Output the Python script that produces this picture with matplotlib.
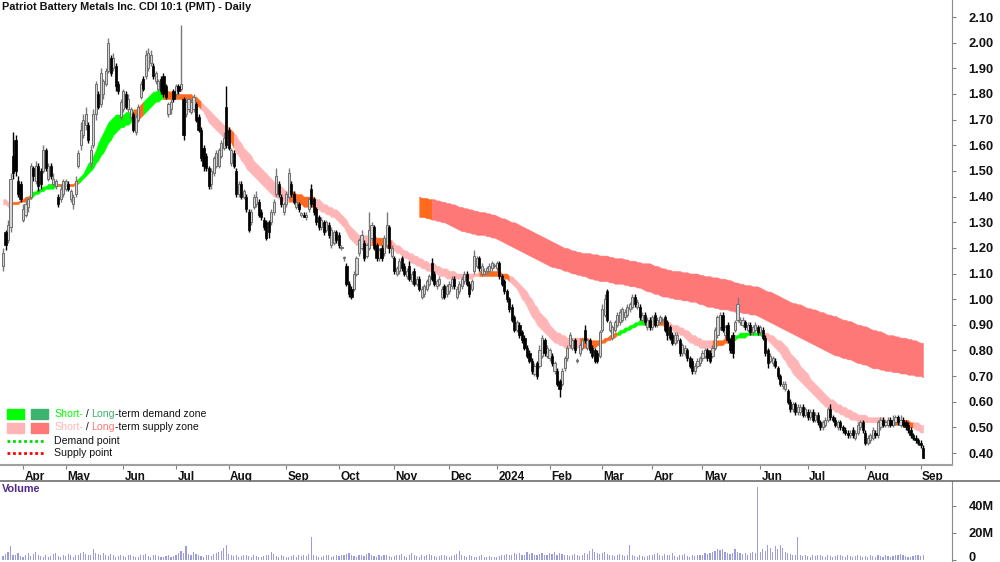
import numpy as np
import pandas as pd
import matplotlib

matplotlib.use("Agg")
import matplotlib.pyplot as plt
from matplotlib import font_manager
from matplotlib.lines import Line2D
from matplotlib.patches import Rectangle
from matplotlib.transforms import ScaledTranslation

W, H = 1000, 562

title = "Patriot Battery Metals Inc. CDI 10:1 (PMT) - Daily"
asx_holidays = ["2023-04-07", "2023-04-10", "2023-04-25", "2023-06-12", "2023-12-25", "2023-12-26",
                "2024-01-01", "2024-01-26", "2024-03-29", "2024-04-01", "2024-04-25", "2024-06-10"]

# daily prices in cents, one row per month (Mar-23 .. Sep-24)
opens = [
    113, 126, 123, 128, 156, 162, 146, 145,
    131, 133, 136, 140, 151, 146, 152, 150, 150, 158, 147, 152, 145, 144, 140, 139, 141,
    143, 145, 139, 137, 141, 152, 160, 164, 168, 168, 153, 160, 172, 180, 176, 180, 184, 189, 194, 190, 191, 184, 171,
    174, 180, 174, 171, 172, 165, 170, 179, 186, 187, 190, 192, 191, 185, 182, 186, 187, 183, 172, 174, 181,
    180, 183, 182, 178, 172, 174, 173, 174, 176, 171, 166, 159, 156, 151, 145, 149, 152, 152, 156, 159, 175,
    166, 153, 157, 150, 141, 145, 140, 140, 134, 130, 136, 137, 138, 134, 131, 130, 130, 130, 134, 141, 145, 140, 134,
    137, 140, 145, 141, 136, 137, 133, 133, 132, 135, 143, 139, 135, 132, 128, 130, 127, 129, 121, 122, 126,
    125, 120, 116, 113, 106, 104, 104, 110, 118, 120, 122, 117, 120, 124, 128, 121, 116, 120, 118, 121, 128, 117,
    116, 110, 111, 116, 113, 109, 113, 107, 111, 106, 108, 101, 102, 104, 106, 114, 110, 105, 106, 101, 105, 102,
    103, 105, 108, 101, 103, 105, 107, 110, 106, 104, 111, 113, 116, 110, 110, 111, 111, 112, 113,
    112, 114, 109, 107, 103, 100, 97, 93, 88, 90, 87, 85, 81, 79, 76, 71, 75, 74, 78, 84, 78,
    77, 78, 72, 72, 68, 67, 73, 77, 82, 81, 84, 76, 79, 81, 88, 81, 84, 81, 80, 79, 78,
    88, 94, 103, 88, 85, 88, 90, 91, 92, 93, 94, 96, 97, 101, 97, 97, 92, 94, 89, 92,
    89, 94, 90, 91, 92, 93, 91, 89, 86, 83, 84, 84, 79, 79, 80, 77, 76, 72, 74, 75,
    77, 78, 80, 79, 78, 81, 86, 89, 94, 86, 90, 84, 86, 88, 92, 91, 90, 91, 88, 90, 87, 88, 89,
    87, 88, 85, 80, 76, 75, 76, 73, 70, 66, 65, 64, 60, 57, 59, 56, 56, 58, 55,
    56, 54, 56, 53, 55, 52, 50, 51, 53, 57, 54, 53, 50, 52, 50, 49, 48, 47, 49, 46, 48, 50, 52,
    48, 44, 45, 46, 48, 47, 50, 53, 51, 51, 53, 51, 52, 54, 51, 53, 52, 51, 49, 47, 46, 45,
    44, 42,
]
highs = [
    120, 127, 131, 149, 165, 164, 148, 146,
    137, 139, 140, 153, 152, 154, 153, 151, 160, 159, 153, 153, 149, 147, 141, 145, 147,
    147, 146, 143, 141, 148, 158, 169, 172, 175, 169, 160, 174, 185, 181, 190, 186, 190, 202, 195, 196, 192, 185, 178,
    182, 181, 180, 175, 173, 172, 176, 185, 187, 197, 198, 197, 192, 189, 186, 187, 188, 184, 177, 178, 182,
    184, 184, 207, 179, 178, 179, 178, 180, 177, 172, 167, 160, 157, 152, 151, 156, 158, 159, 162, 165, 183,
    167, 159, 158, 151, 146, 146, 143, 141, 135, 135, 141, 142, 139, 135, 132, 131, 131, 135, 139, 151, 146, 141, 138,
    142, 151, 146, 142, 139, 138, 134, 134, 134, 140, 145, 140, 136, 133, 132, 131, 131, 130, 128, 127, 127,
    126, 121, 117, 114, 107, 105, 111, 117, 124, 127, 123, 122, 134, 130, 129, 122, 120, 121, 125, 134, 129, 121,
    117, 113, 116, 117, 114, 112, 115, 111, 112, 109, 109, 105, 106, 108, 110, 116, 111, 108, 109, 105, 106, 106,
    107, 109, 109, 105, 107, 109, 111, 111, 107, 108, 119, 117, 117, 114, 112, 113, 114, 115, 114,
    115, 115, 110, 108, 104, 101, 98, 94, 92, 91, 88, 86, 82, 80, 77, 75, 76, 82, 86, 85, 82,
    81, 79, 76, 73, 69, 73, 78, 82, 87, 85, 85, 77, 83, 85, 90, 85, 85, 82, 81, 80, 88,
    98, 102, 104, 92, 90, 92, 95, 96, 97, 96, 98, 99, 102, 102, 100, 98, 95, 95, 93, 93,
    94, 95, 93, 94, 93, 94, 92, 90, 87, 87, 87, 85, 83, 82, 81, 78, 77, 75, 77, 78,
    80, 81, 81, 80, 82, 89, 94, 95, 95, 90, 91, 85, 87, 92, 101, 93, 93, 92, 91, 91, 90, 91, 90,
    90, 89, 86, 81, 79, 78, 77, 74, 71, 68, 68, 65, 61, 60, 60, 59, 59, 59, 58,
    57, 57, 57, 56, 56, 53, 53, 54, 58, 59, 55, 54, 53, 53, 51, 50, 49, 49, 50, 49, 52, 53, 53,
    49, 47, 48, 50, 49, 53, 54, 54, 53, 54, 54, 55, 55, 55, 55, 54, 53, 52, 50, 48, 47, 46,
    45, 43,
]
lows = [
    111, 119, 122, 126, 147, 148, 140, 138,
    130, 132, 134, 139, 146, 145, 142, 143, 149, 150, 146, 147, 144, 143, 136, 138, 140,
    142, 142, 138, 135, 140, 151, 158, 163, 166, 161, 151, 159, 170, 174, 175, 178, 183, 188, 187, 189, 181, 180, 170,
    173, 174, 173, 170, 165, 164, 169, 178, 181, 186, 189, 191, 186, 184, 181, 180, 179, 178, 171, 172, 177,
    179, 180, 181, 162, 171, 173, 172, 173, 169, 165, 154, 150, 150, 143, 143, 148, 151, 151, 155, 158, 159,
    158, 152, 151, 140, 140, 139, 139, 134, 126, 129, 135, 136, 132, 131, 127, 123, 124, 129, 133, 140, 140, 136, 133,
    136, 139, 140, 137, 135, 134, 132, 132, 131, 134, 136, 133, 129, 127, 127, 125, 126, 124, 120, 121, 122,
    120, 119, 115, 105, 101, 100, 103, 109, 117, 119, 115, 116, 119, 123, 119, 115, 115, 115, 117, 120, 118, 116,
    110, 109, 110, 111, 109, 108, 107, 106, 105, 105, 103, 100, 101, 103, 105, 107, 105, 104, 105, 100, 100, 101,
    102, 104, 104, 100, 102, 104, 106, 105, 101, 103, 110, 112, 111, 109, 110, 110, 110, 111, 112,
    111, 108, 105, 102, 99, 95, 91, 87, 87, 85, 83, 80, 77, 75, 71, 70, 69, 73, 77, 78, 77,
    76, 74, 71, 66, 62, 66, 72, 76, 81, 80, 79, 75, 78, 80, 83, 80, 79, 77, 75, 75, 77,
    87, 93, 91, 87, 84, 87, 89, 90, 91, 92, 93, 95, 96, 97, 96, 92, 91, 90, 88, 88,
    88, 89, 89, 90, 91, 87, 84, 84, 82, 82, 83, 78, 78, 78, 76, 73, 71, 71, 73, 74,
    76, 77, 76, 75, 77, 80, 85, 88, 87, 85, 83, 79, 77, 87, 91, 90, 89, 88, 87, 86, 86, 87, 86,
    86, 84, 78, 73, 75, 74, 73, 69, 66, 65, 64, 59, 56, 56, 55, 55, 55, 54, 54,
    53, 53, 52, 52, 51, 49, 49, 50, 52, 53, 52, 50, 49, 49, 48, 47, 46, 46, 46, 45, 47, 49, 48,
    43, 43, 44, 45, 46, 46, 49, 50, 50, 50, 50, 50, 51, 51, 50, 50, 49, 48, 46, 45, 44, 43,
    42, 38,
]
closes = [
    118, 121, 129, 147, 149, 150, 141, 139,
    135, 137, 139, 152, 148, 152, 144, 145, 158, 151, 152, 148, 147, 146, 137, 143, 146,
    146, 143, 142, 140, 146, 157, 166, 170, 172, 162, 158, 172, 184, 175, 188, 185, 189, 200, 188, 194, 183, 181, 177,
    181, 175, 178, 174, 166, 171, 175, 184, 182, 195, 196, 195, 187, 188, 185, 181, 180, 179, 176, 177, 178,
    183, 181, 184, 164, 177, 178, 177, 179, 170, 166, 155, 152, 151, 144, 150, 155, 157, 158, 161, 163, 160,
    159, 158, 152, 141, 145, 140, 142, 135, 127, 134, 140, 140, 133, 132, 128, 124, 126, 134, 138, 148, 141, 137, 137,
    141, 149, 141, 138, 138, 135, 133, 132, 133, 139, 137, 134, 130, 128, 131, 126, 130, 125, 127, 126, 123,
    121, 120, 116, 106, 102, 101, 110, 116, 123, 125, 116, 121, 127, 129, 120, 116, 119, 116, 124, 129, 120, 120,
    111, 112, 115, 112, 110, 111, 108, 110, 106, 108, 104, 104, 105, 107, 109, 108, 106, 107, 108, 104, 101, 105,
    106, 108, 105, 104, 106, 108, 110, 106, 102, 107, 117, 116, 112, 113, 111, 112, 113, 114, 113,
    114, 109, 106, 103, 100, 96, 92, 88, 91, 86, 84, 81, 78, 76, 72, 74, 70, 80, 85, 79, 81,
    80, 75, 75, 67, 65, 72, 77, 81, 86, 84, 80, 76, 82, 84, 84, 84, 80, 78, 76, 76, 87,
    96, 100, 92, 91, 89, 91, 94, 95, 96, 95, 97, 98, 101, 98, 99, 93, 94, 91, 92, 89,
    93, 90, 92, 93, 92, 88, 86, 85, 83, 86, 86, 79, 82, 81, 77, 74, 72, 74, 76, 77,
    79, 80, 77, 76, 81, 88, 93, 94, 88, 89, 84, 80, 79, 91, 98, 92, 92, 89, 90, 87, 89, 90, 87,
    89, 85, 79, 75, 78, 77, 74, 70, 67, 67, 67, 60, 57, 59, 56, 58, 58, 55, 57,
    54, 56, 53, 55, 52, 50, 52, 53, 57, 54, 53, 51, 52, 50, 49, 48, 47, 48, 47, 48, 51, 52, 49,
    44, 46, 47, 49, 47, 52, 53, 51, 52, 53, 51, 53, 54, 52, 53, 51, 50, 49, 47, 46, 45, 44,
    43, 38,
]
# volume in units of 0.1M shares
volume = [
    30, 45, 60, 100, 40, 35, 55, 30,
    25, 35, 50, 30, 45, 60, 40, 30, 25, 35, 20, 30, 45, 55, 30, 25, 40,
    30, 45, 35, 25, 40, 35, 50, 60, 45, 40, 35, 80, 55, 45, 35, 50, 40, 30, 45, 35, 25, 30, 40,
    30, 25, 35, 40, 30, 25, 20, 35, 40, 45, 30, 25, 35, 40, 30, 25, 20, 30, 35, 25, 30,
    40, 50, 65, 55, 100, 45, 40, 60, 45, 35, 30, 25, 40, 35, 30, 45, 50, 60, 70, 90, 110,
    45, 35, 30, 40, 25, 30, 35, 40, 30, 25, 35, 30, 25, 20, 30, 35, 40, 60, 45, 30, 25, 35, 30,
    25, 20, 30, 35, 25, 40, 30, 35, 30, 45, 170, 35, 30, 25, 20, 30, 35, 40, 25, 30, 35,
    30, 35, 40, 45, 50, 35, 30, 25, 40, 35, 30, 45, 50, 35, 30, 25, 35, 30, 40, 35, 30, 25,
    30, 35, 40, 45, 30, 25, 35, 55, 40, 30, 25, 35, 30, 40, 45, 35, 30, 25, 30, 35, 40, 30,
    25, 30, 35, 45, 70, 40, 30, 25, 35, 30, 25, 20, 30, 35, 25, 20, 30, 25, 20,
    25, 30, 35, 40, 45, 35, 40, 50, 45, 55, 40, 35, 60, 45, 50, 40, 35, 45, 55, 40, 35,
    50, 45, 60, 40, 55, 45, 40, 35, 30, 40, 45, 35, 30, 40, 50, 45, 70, 80, 60, 55, 45,
    50, 60, 45, 40, 35, 30, 40, 45, 35, 30, 40, 110, 35, 30, 25, 35, 30, 25, 30, 35,
    40, 45, 50, 35, 30, 45, 40, 35, 50, 30, 25, 35, 40, 45, 30, 25, 35, 30, 40, 35,
    40, 50, 45, 55, 60, 70, 80, 75, 85, 60, 50, 45, 55, 80, 60, 50, 45, 55, 40, 50, 60, 55, 540,
    60, 80, 70, 110, 90, 60, 100, 80, 110, 90, 60, 50, 45, 40, 35, 170, 40, 30, 35,
    30, 25, 35, 30, 40, 35, 30, 25, 35, 30, 25, 30, 35, 40, 30, 25, 35, 30, 25, 30, 35, 30, 25,
    30, 25, 35, 30, 25, 40, 30, 25, 35, 30, 25, 30, 35, 40, 45, 35, 30, 25, 20, 30, 35, 40,
    30, 35,
]
# short-term zone edges (cents)
short_zone_low = [
    137, 137, 136, 136, 137, 137, 137, 138,
    138, 138, 139, 139, 140, 141, 141, 142, 142, 143, 143, 143, 143, 144, 144, 144, 144,
    144, 144, 144, 144, 145, 145, 146, 147, 148, 149, 150, 151, 153, 154, 156, 157, 159, 161, 162, 164, 165, 166, 167,
    167, 168, 168, 169, 169, 170, 170, 171, 172, 173, 174, 175, 176, 177, 177, 178, 178, 178, 178, 178, 178,
    178, 178, 178, 178, 178, 177, 177, 177, 176, 175, 174, 173, 171, 169, 168, 167, 166, 165, 164, 163, 163,
    162, 161, 159, 157, 156, 154, 153, 151, 150, 149, 148, 147, 146, 145, 144, 143, 142, 141, 140, 140, 139, 139, 138,
    138, 138, 138, 138, 137, 137, 137, 136, 136, 136, 136, 136, 135, 135, 134, 134, 133, 133, 132, 132, 131,
    130, 129, 128, 126, 124, 123, 122, 121, 121, 121, 121, 121, 121, 121, 121, 121, 121, 121, 121, 120, 120, 120,
    119, 118, 118, 117, 116, 116, 115, 114, 114, 113, 113, 112, 112, 111, 111, 111, 110, 110, 109, 109, 109, 108,
    108, 108, 108, 108, 108, 108, 108, 108, 108, 108, 109, 109, 109, 109, 109, 109, 109, 109, 109,
    109, 109, 109, 108, 108, 107, 106, 105, 104, 102, 100, 99, 97, 95, 93, 92, 90, 89, 88, 87, 86,
    85, 84, 83, 83, 82, 82, 81, 81, 81, 81, 81, 81, 81, 81, 81, 81, 81, 81, 81, 82, 82,
    83, 83, 84, 84, 85, 85, 86, 86, 87, 87, 88, 88, 89, 89, 90, 90, 90, 90, 90, 90,
    90, 90, 90, 90, 90, 89, 89, 88, 88, 87, 87, 86, 86, 85, 84, 83, 83, 82, 82, 81,
    81, 81, 81, 81, 81, 81, 82, 82, 82, 83, 83, 84, 84, 84, 85, 85, 85, 85, 86, 86, 86, 86, 86,
    86, 85, 85, 84, 83, 82, 81, 80, 79, 77, 76, 74, 73, 71, 70, 69, 68, 67, 66,
    65, 64, 63, 62, 61, 60, 59, 58, 58, 57, 57, 56, 56, 55, 55, 54, 54, 53, 53, 53, 52, 52, 52,
    52, 52, 52, 52, 52, 52, 51, 51, 51, 51, 51, 51, 51, 51, 51, 51, 51, 50, 50, 50, 49, 49,
    48, 48,
]
short_zone_high = [
    139, 139, 138, 138, 138, 138, 138, 139,
    139, 140, 140, 141, 142, 142, 143, 143, 144, 144, 145, 145, 145, 145, 145, 145, 145,
    145, 145, 145, 145, 146, 147, 148, 149, 151, 153, 154, 156, 158, 161, 163, 165, 167, 169, 170, 171, 172, 172, 172,
    172, 173, 173, 173, 174, 174, 175, 176, 177, 178, 179, 180, 181, 181, 182, 182, 182, 182, 181, 181, 181,
    181, 180, 180, 180, 180, 180, 180, 179, 179, 178, 177, 176, 175, 174, 173, 172, 171, 170, 169, 168, 168,
    167, 166, 165, 164, 162, 161, 159, 158, 157, 156, 154, 153, 152, 151, 150, 149, 148, 147, 146, 145, 144, 144, 143,
    142, 142, 142, 142, 141, 141, 141, 140, 140, 140, 140, 140, 139, 139, 138, 137, 137, 136, 136, 135, 135,
    134, 133, 132, 131, 129, 128, 127, 126, 125, 125, 125, 125, 125, 125, 125, 124, 124, 124, 124, 124, 123, 123,
    122, 121, 121, 120, 119, 119, 118, 118, 117, 117, 116, 116, 115, 115, 114, 114, 114, 113, 113, 112, 112, 112,
    111, 111, 111, 110, 110, 110, 110, 110, 110, 110, 110, 110, 111, 111, 111, 111, 111, 111, 111,
    111, 111, 110, 110, 110, 109, 109, 108, 107, 106, 105, 104, 103, 101, 100, 98, 97, 95, 94, 93, 92,
    90, 89, 88, 87, 87, 86, 86, 85, 85, 85, 85, 85, 85, 85, 85, 85, 84, 84, 84, 84, 84,
    84, 85, 85, 86, 86, 87, 87, 88, 88, 89, 89, 90, 90, 91, 91, 92, 92, 92, 92, 92,
    92, 92, 92, 92, 92, 91, 91, 91, 90, 90, 90, 89, 89, 88, 88, 87, 86, 86, 85, 85,
    84, 84, 84, 84, 84, 84, 84, 84, 84, 85, 85, 85, 86, 86, 86, 87, 87, 87, 87, 87, 87, 87, 87,
    87, 87, 87, 87, 86, 86, 85, 84, 84, 83, 82, 81, 79, 78, 77, 76, 74, 73, 72,
    71, 69, 68, 67, 66, 65, 64, 63, 62, 61, 61, 60, 59, 59, 58, 58, 57, 57, 56, 56, 55, 55, 55,
    55, 54, 54, 54, 54, 54, 54, 54, 53, 53, 53, 53, 53, 53, 53, 53, 53, 53, 52, 52, 52, 52,
    51, 51,
]
# state of the short-term zone: (state, first day, last day)
short_zone_runs = [
    ("supply", 0, 3), ("test", 3, 11), ("demand", 11, 22), ("test", 22, 30), ("demand", 30, 52),
    ("test", 52, 56), ("demand", 56, 64), ("test", 64, 79), ("supply", 79, 90), ("test", 90, 92),
    ("supply", 92, 114), ("test", 114, 124), ("supply", 124, 147), ("test", 147, 155),
    ("supply", 155, 190), ("test", 190, 202), ("supply", 202, 230), ("test", 230, 245),
    ("demand", 245, 256), ("test", 256, 264), ("supply", 264, 283), ("test", 283, 292),
    ("demand", 292, 303), ("supply", 303, 354), ("test", 354, 363), ("supply", 363, 367),
]
# long-term supply zone, starts on day 166 (mid Nov 2023)
long_zone_start = 166
long_zone_low = [
    132, 132, 132, 131.5, 131.5, 131, 131, 130.5, 130.5, 130, 130, 129.5, 129, 128.5,
    128, 127.5, 127, 126.5, 126.5, 126, 126, 125.5, 125.5, 125, 125, 125,
    125, 124.5, 124.5, 124, 124, 123.5, 123, 122.5, 122, 121.5, 121, 120.5,
    120, 119.5, 119, 118.5, 118, 117.5, 117, 116.5, 116, 115.5, 115, 114.5,
    114, 113.5, 113, 112.5, 112.5, 112, 112, 111.5, 111, 111, 110.5, 110,
    110, 109.5, 109.5, 109, 109, 108.5, 108, 108, 107.5, 107.5, 107, 107,
    107, 107, 106.5, 106.5, 106, 106, 106, 106, 105.5, 105.5, 105, 105,
    105, 104.5, 104.5, 104, 103.5, 103, 103, 102.5, 102, 102, 101.5, 101,
    101, 101, 100.5, 100.5, 100, 100, 100, 99.5, 99.5, 99.5, 99, 99,
    99, 98.5, 98, 98, 97.5, 97, 97, 97, 96.5, 96.5, 96, 96,
    96, 96, 95.5, 95.5, 95, 95, 95, 94.5, 94.5, 94.5, 94, 94,
    94, 93.5, 93, 92.5, 92, 91.5, 91, 90.5, 90, 89.5, 89, 88.5,
    88, 87.5, 87, 86.5, 86, 85.5, 85, 84.5, 84, 83.5, 83, 82.5,
    82, 81.5, 81, 80.5, 80, 79.5, 79, 78.5, 78, 78, 77.5, 77,
    77, 76.5, 76.5, 76, 75.5, 75, 75, 74.5, 74.5, 74, 73.5, 73,
    73, 73, 72.5, 72.5, 72, 72, 72, 71.5, 71.5, 71.5, 71, 71,
    71, 70.5, 70.5, 70.5, 70, 70, 70, 69.5,
]
long_zone_high = [
    140, 139.5, 139.5, 139.5, 139, 139, 139, 138.5, 138.5, 138, 138, 137.5, 137.5, 137,
    137, 136.5, 136, 136, 135.5, 135.5, 135, 135, 134.5, 134.5, 134, 134,
    134, 133.5, 133.5, 133, 133, 132.5, 132, 131.5, 131.5, 131, 130.5, 130,
    130, 129.5, 129, 128.5, 128, 127.5, 127, 126.5, 126, 125.5, 125, 124.5,
    124, 123.5, 123, 122.5, 122, 121.5, 121, 120.5, 120, 120, 119.5, 119,
    119, 118.5, 118.5, 118, 118, 118, 118, 117.5, 117.5, 117.5, 117, 117,
    117, 117, 116.5, 116.5, 116, 116, 116, 116, 115.5, 115.5, 115, 115,
    115, 114.5, 114.5, 114, 114, 114, 114, 113.5, 113, 113, 112.5, 112,
    112, 111.5, 111.5, 111, 111, 111, 111, 110.5, 110.5, 110.5, 110, 110,
    110, 110, 109.5, 109.5, 109, 109, 109, 108.5, 108.5, 108.5, 108, 108,
    108, 107.5, 107.5, 107, 106.5, 106.5, 106, 106, 105.5, 105.5, 105.5, 105,
    105, 105, 104.5, 104, 103.5, 103, 103, 102.5, 102, 101.5, 101, 100.5,
    100, 99.5, 99, 98.5, 98.5, 98, 98, 97.5, 97, 96.5, 96.5, 96,
    96, 95.5, 95, 95, 94.5, 94, 94, 93.5, 93.5, 93, 92.5, 92,
    92, 91.5, 91.5, 91, 90.5, 90, 90, 89.5, 89.5, 89, 88.5, 88,
    88, 87.5, 87.5, 87, 86.5, 86, 86, 86, 85.5, 85.5, 85, 85,
    85, 84.5, 84.5, 84, 84, 83.5, 83, 83,
]
long_zone_runs = [("test", 166, 171), ("supply", 171, 367)]

price_ticks = [0.40, 0.50, 0.60, 0.70, 0.80, 0.90, 1.00, 1.10, 1.20, 1.30, 1.40, 1.50,
               1.60, 1.70, 1.80, 1.90, 2.00, 2.10]
volume_ticks = [0, 20e6, 40e6]
volume_tick_labels = ["0", "20M", "40M"]

short_colors = {"demand": "#00ff00", "supply": "#ffb5b5", "test": "#ff6a1f"}
long_colors = {"demand": "#3cb371", "supply": "#ff7878", "test": "#ff6a1f"}


def pick_font(names):
    for name in names:
        try:
            font_manager.findfont(font_manager.FontProperties(family=name), fallback_to_default=False)
            return name
        except ValueError:
            continue
    return "DejaVu Sans"


def fx(x_px):
    return x_px / W


def fy(y_px):
    return 1 - y_px / H


def colored_text(fig, x_px, y_px, parts, **kw):
    renderer = fig.canvas.get_renderer()
    x = x_px
    for text, color in parts:
        t = fig.text(fx(x), fy(y_px), text, color=color, ha="left", va="center", **kw)
        x += t.get_window_extent(renderer).width


def main():
    font = pick_font(["Liberation Sans", "Arimo", "DejaVu Sans"])
    plt.rcParams["font.family"] = [font, "DejaVu Sans"]

    days = pd.bdate_range("2023-03-22", "2024-09-03")
    days = days[~days.isin(pd.to_datetime(asx_holidays))]
    n = len(days)
    idx = np.arange(n)
    assert all(len(a) == n for a in (opens, highs, lows, closes, volume, short_zone_low, short_zone_high))

    o = np.array(opens) / 100
    hi = np.array(highs) / 100
    lo = np.array(lows) / 100
    c = np.array(closes) / 100
    vol = np.array(volume) * 1e5
    s_lo = np.array(short_zone_low) / 100
    s_hi = np.array(short_zone_high) / 100
    l_idx = np.arange(long_zone_start, long_zone_start + len(long_zone_low))
    l_lo = np.array(long_zone_low) / 100
    l_hi = np.array(long_zone_high) / 100

    fig = plt.figure(figsize=(W / 100, H / 100), dpi=100)
    ax = fig.add_axes([0, fy(465), fx(952), 465 / H])
    axv = fig.add_axes([0, 0, fx(952), 81 / H])

    # zones
    for state, a, b in short_zone_runs:
        sl = slice(a, b + 1)
        ax.fill_between(idx[sl], s_lo[sl], s_hi[sl], color=short_colors[state], lw=0.3, zorder=1)
    for state, a, b in long_zone_runs:
        m = (l_idx >= a) & (l_idx <= b)
        ax.fill_between(l_idx[m], l_lo[m], l_hi[m], color=long_colors[state], lw=0.3, zorder=1)

    # candles
    up = c >= o
    ax.vlines(idx[up], lo[up], hi[up], color="#7a7a7a", lw=1.0, zorder=2)
    ax.vlines(idx[~up], lo[~up], hi[~up], color="black", lw=1.0, zorder=2)
    body_bot = np.minimum(o, c)
    body_h = np.maximum(np.abs(c - o), 0.004)
    ax.bar(idx[up], body_h[up], bottom=body_bot[up], width=0.85, color="#d4d4d4",
           edgecolor="#6e6e6e", lw=0.7, zorder=3)
    ax.bar(idx[~up], body_h[~up], bottom=body_bot[~up], width=0.85, color="black",
           edgecolor="black", lw=0.5, zorder=3)

    x0 = -3 / 2.507
    x1 = (952 - 3) / 2.507
    ax.set_xlim(x0, x1)
    ax.set_ylim(0.3534, 2.1663)

    price_size = 9.3
    month_size = 8.5
    ax.yaxis.tick_right()
    ax.set_yticks(price_ticks)
    ax.set_yticklabels([f"{t:.2f}" for t in price_ticks])
    ax.tick_params(axis="y", direction="out", length=3, width=0.8, color="#808080", pad=9,
                   labelsize=price_size, labelcolor="#111111")
    for lbl in ax.get_yticklabels():
        lbl.set_fontweight("bold")

    month_start = [i for i in range(1, n) if days[i].month != days[i - 1].month]
    month_labels = [str(days[i].year) if days[i].month == 1 else days[i].strftime("%b") for i in month_start]
    ax.set_xticks(month_start)
    ax.set_xticklabels(month_labels)
    ax.tick_params(axis="x", direction="out", length=3, width=0.8, color="#808080", pad=1,
                   labelsize=month_size, labelcolor="#111111")
    shift = ScaledTranslation(1.5 / 100, 0, fig.dpi_scale_trans)
    for lbl in ax.get_xticklabels():
        lbl.set_ha("left")
        lbl.set_fontweight("bold")
        lbl.set_transform(lbl.get_transform() + shift)

    for side in ("top", "left"):
        ax.spines[side].set_visible(False)
    ax.spines["right"].set_color("#8a8a8a")
    ax.spines["bottom"].set_color("#a0a0a0")
    ax.spines["bottom"].set_linewidth(1.5)

    # volume
    axv.bar(idx, vol, width=0.45, color="#9c9cdc", lw=0)
    axv.set_xlim(x0, x1)
    axv.set_ylim(-1.48e6, 58.5e6)
    axv.yaxis.tick_right()
    axv.set_yticks(volume_ticks)
    axv.set_yticklabels(volume_tick_labels)
    axv.tick_params(axis="y", direction="out", length=3, width=0.8, color="#808080", pad=9,
                    labelsize=price_size, labelcolor="#111111")
    lift = ScaledTranslation(0, 4 / 100, fig.dpi_scale_trans)
    for lbl in axv.get_yticklabels():
        lbl.set_fontweight("bold")
        if lbl.get_text() == "0":
            lbl.set_transform(lbl.get_transform() + lift)
    axv.set_xticks([])
    for side in ("top", "left", "bottom"):
        axv.spines[side].set_visible(False)
    axv.spines["right"].set_color("#8a8a8a")
    fig.add_artist(Line2D([0, 1], [fy(480.5), fy(480.5)], color="#6e6e6e", lw=1.2))

    title_size = 7.8
    fig.text(fx(2), fy(7), title, ha="left", va="center", fontsize=title_size, fontweight="bold", color="#111111")
    fig.text(fx(2), fy(489), "Volume", ha="left", va="center", fontsize=title_size, fontweight="bold",
             color="#4f2a8c")

    # legend
    leg_size = 7.6
    for x_px, y_px, col in [(7, 409, short_colors["demand"]), (31, 409, long_colors["demand"]),
                            (7, 423, short_colors["supply"]), (31, 423, long_colors["supply"])]:
        fig.patches.append(Rectangle((fx(x_px), fy(y_px + 10)), 17 / W, 10 / H,
                                     transform=fig.transFigure, color=col, zorder=5))
    fig.add_artist(Line2D([fx(7), fx(45)], [fy(441), fy(441)], color="#00dd00", lw=2, ls=(0, (1, 1))))
    fig.add_artist(Line2D([fx(7), fx(45)], [fy(453), fy(453)], color="#ff0000", lw=2, ls=(0, (1, 1))))
    colored_text(fig, 54, 414, [("Short-", short_colors["demand"]), (" / ", "#111111"),
                                ("Long", long_colors["demand"]), ("-term demand zone", "#111111")],
                 fontsize=leg_size)
    colored_text(fig, 54, 427, [("Short-", short_colors["supply"]), (" / ", "#111111"),
                                ("Long", long_colors["supply"]), ("-term supply zone", "#111111")],
                 fontsize=leg_size)
    fig.text(fx(54), fy(441), "Demand point", ha="left", va="center", fontsize=leg_size, color="#111111")
    fig.text(fx(54), fy(453), "Supply point", ha="left", va="center", fontsize=leg_size, color="#111111")

    fig.savefig("out.png", dpi=100)
    plt.close(fig)


if __name__ == "__main__":
    main()
